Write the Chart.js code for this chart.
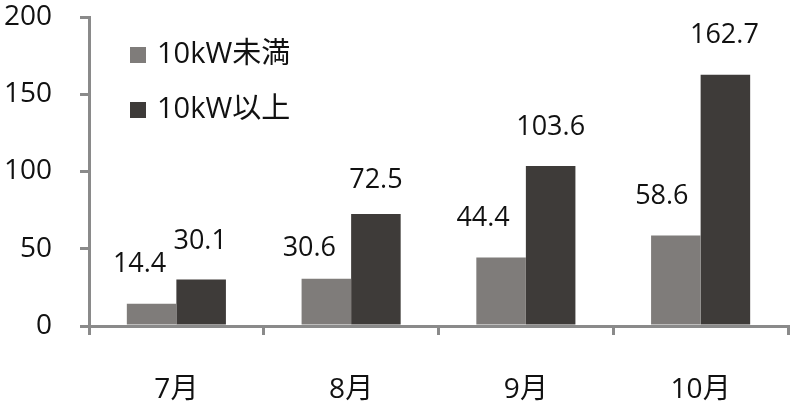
<!DOCTYPE html>
<html><head><meta charset="utf-8">
<script src="https://cdn.jsdelivr.net/npm/chart.js@4/dist/chart.umd.min.js"></script>
<style>html,body{margin:0;padding:0;background:#fff}#wrap{width:800px;height:407px;position:relative}</style>
</head><body><div id="wrap"><canvas id="c"></canvas></div>
<script>
const categories = ['7月', '8月', '9月', '10月'];
const seriesNames = ['10kW未満', '10kW以上'];
const under10 = [14.4, 30.6, 44.4, 58.6];
const over10 = [30.1, 72.5, 103.6, 162.7];
const yTicks = [0, 50, 100, 150, 200];

const FONT = "'Open Sans','Noto Sans CJK JP',sans-serif";
const AXIS = '#8a8a8a';
// label placement tweaks (pixels) per dataset
const labelStyle = [
  {dx: [-12, -17, -18, -14], gap: [39, 30, 39, 39]},
  {dx: [-1, 0, 0, -1], gap: [38, 34, 39, 39]}
];

const labelsPlugin = {
  id: 'valueLabels',
  afterDatasetsDraw(chart) {
    const ctx = chart.ctx;
    ctx.save();
    ctx.font = "27px " + FONT;
    ctx.fillStyle = '#111';
    ctx.textAlign = 'center';
    ctx.textBaseline = 'middle';
    chart.data.datasets.forEach((ds, i) => {
      const meta = chart.getDatasetMeta(i);
      meta.data.forEach((bar, j) => {
        const st = labelStyle[i];
        ctx.fillText(ds.data[j].toFixed(1), bar.x + st.dx[j], bar.y - st.gap[j]);
      });
    });
    ctx.restore();
  }
};

const legendPlugin = {
  id: 'boxLegend',
  afterDraw(chart) {
    const ctx = chart.ctx;
    ctx.save();
    ctx.font = "29px " + FONT;
    ctx.textBaseline = 'middle';
    ctx.textAlign = 'left';
    const x0 = 130, ys = [55, 110];
    chart.data.datasets.forEach((ds, i) => {
      ctx.fillStyle = ds.backgroundColor;
      ctx.fillRect(x0, ys[i] - 8, 16, 16);
      ctx.fillStyle = '#111';
      ctx.fillText(ds.label, x0 + 27, ys[i]);
    });
    ctx.restore();
  }
};

new Chart(document.getElementById('c'), {
  type: 'bar',
  data: {
    labels: categories,
    datasets: [
      {label: seriesNames[0], data: under10, backgroundColor: '#7f7c7a', categoryPercentage: 0.567, barPercentage: 1.0},
      {label: seriesNames[1], data: over10, backgroundColor: '#3e3b39', categoryPercentage: 0.567, barPercentage: 1.0}
    ]
  },
  options: {
    responsive: true,
    maintainAspectRatio: false,
    animation: false,
    layout: {padding: {top: 17, right: 12, left: 0, bottom: 0}},
    plugins: {legend: {display: false}, tooltip: {enabled: false}},
    scales: {
      x: {
        grid: {display: true, drawOnChartArea: false, drawTicks: true, tickLength: 9, color: AXIS, lineWidth: 3, offset: true},
        border: {display: true, color: AXIS, width: 3},
        ticks: {color: '#111', font: {family: FONT, size: 28}, padding: 38},
        afterFit(s) { s.height = 81; s.paddingLeft = 0; s.paddingRight = 0; }
      },
      y: {
        min: 0, max: 200,
        afterBuildTicks(s) { s.ticks = yTicks.map(v => ({value: v})); },
        grid: {display: true, drawOnChartArea: false, drawTicks: true, tickLength: 9, color: AXIS, lineWidth: 3},
        border: {display: true, color: AXIS, width: 3},
        ticks: {color: '#111', font: {family: FONT, size: 28}, padding: 28},
        afterFit(s) { s.width = 89; s.paddingTop = 0; s.paddingBottom = 0; }
      }
    }
  },
  plugins: [labelsPlugin, legendPlugin]
});
</script></body></html>
